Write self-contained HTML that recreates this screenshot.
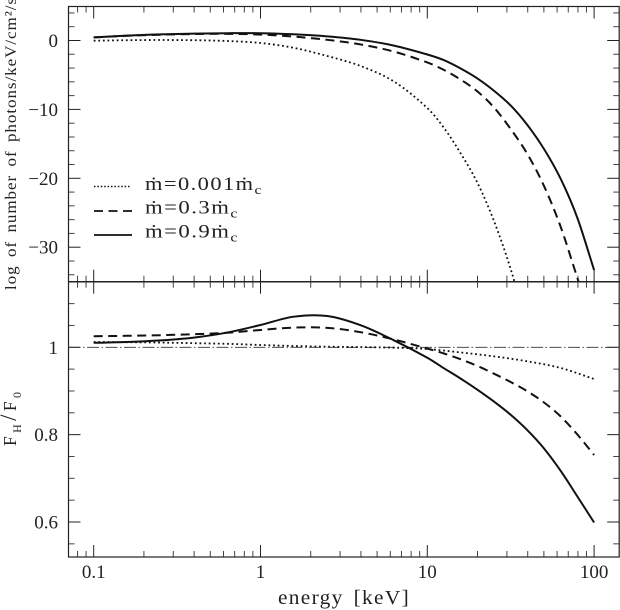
<!DOCTYPE html>
<html lang="en">
<head>
<meta charset="utf-8">
<title>Photon spectra and flux ratio versus energy</title>
<style>
html,body{margin:0;padding:0;background:#fff;}
svg{display:block;font-family:"Liberation Serif",serif;fill:#222;}
</style>
</head>
<body>
<svg id="chart" xmlns="http://www.w3.org/2000/svg" width="620" height="610" viewBox="0 0 620 610">
  <defs>
    <clipPath id="top-clip"><rect x="68" y="6" width="552" height="275.5"/></clipPath>
    <clipPath id="bottom-clip"><rect x="68" y="281.5" width="552" height="275.5"/></clipPath>
  </defs>
  <rect width="620" height="610" fill="#fff"/>
  <g id="ticks"></g>
  <g id="tick-labels" font-size="19"></g>
  <line id="unity-line" stroke="#333" stroke-width="0.9" stroke-dasharray="12 2.5 1.5 2.5"/>
  <g id="top-series" clip-path="url(#top-clip)"></g>
  <g id="bottom-series" clip-path="url(#bottom-clip)"></g>
  <g fill="none" stroke="#222">
    <rect x="68.5" y="6.5" width="550.7" height="550.5" stroke-width="1.2"/>
    <line x1="68" y1="281.7" x2="620" y2="281.7" stroke-width="1.5"/>
  </g>
  <text transform="translate(16,290) rotate(-90)" font-size="16" letter-spacing="0.9" word-spacing="3" textLength="293" lengthAdjust="spacingAndGlyphs">log of number of photons/keV/cm²/s</text>
  <text transform="translate(16,446) rotate(-90)" font-size="17.5" textLength="54" lengthAdjust="spacing">F<tspan font-size="12" dy="5">H</tspan><tspan dy="-5" font-size="23">/</tspan>F<tspan font-size="12" dy="5">0</tspan></text>
  <text x="278" y="604" font-size="19.5" letter-spacing="1.2" word-spacing="3" textLength="132" lengthAdjust="spacingAndGlyphs">energy [keV]</text>
  <g>
    <g>
      <line x1="94" y1="186.5" x2="131" y2="186.5" stroke="#111" stroke-width="1.5" stroke-dasharray="1.5 1.9"/>
      <text x="145" y="190" font-size="18.5" letter-spacing="1.2" textLength="118" lengthAdjust="spacingAndGlyphs">ṁ=0.001ṁ<tspan font-size="13" dy="4">c</tspan></text>
    </g>
    <g>
      <line x1="94" y1="211" x2="132" y2="211" stroke="#111" stroke-width="1.8" stroke-dasharray="9 5.5"/>
      <text x="145" y="213.5" font-size="18.5" letter-spacing="1.2" textLength="94" lengthAdjust="spacingAndGlyphs">ṁ=0.3ṁ<tspan font-size="13" dy="4">c</tspan></text>
    </g>
    <g>
      <line x1="94" y1="235" x2="132" y2="235" stroke="#111" stroke-width="1.8"/>
      <text x="145" y="237.5" font-size="18.5" letter-spacing="1.2" textLength="94" lengthAdjust="spacingAndGlyphs">ṁ=0.9ṁ<tspan font-size="13" dy="4">c</tspan></text>
    </g>
  </g>
</svg>
<script>
var xMajorTicks = [0.1, 1, 10, 100];
var xTickLabels = ["0.1", "1", "10", "100"];
var xMinorTicks = [0.08, 0.09, 0.2, 0.3, 0.4, 0.5, 0.6, 0.7, 0.8, 0.9, 2, 3, 4, 5, 6, 7, 8, 9, 20, 30, 40, 50, 60, 70, 80, 90];
var topMajorTicks = [0, -10, -20, -30];
var topTickLabels = ["0", "−10", "−20", "−30"];
var topMinorTicks = [4, 2, -2, -4, -6, -8, -12, -14, -16, -18, -22, -24, -26, -28, -32, -34];
var bottomMajorTicks = [1, 0.8, 0.6];
var bottomTickLabels = ["1", "0.8", "0.6"];
var bottomMinorTicks = [1.1, 1.05, 0.95, 0.9, 0.85, 0.75, 0.7, 0.65, 0.55];
var unityValue = 1;

var topLowEnergy = [0.1, 0.158, 0.251, 0.398, 0.631, 1, 1.58, 2.51, 3.98, 6.31, 10, 12.6, 15.8, 20, 25.1, 31.6, 39.8];
var topLowValues = [-0.03, 0.04, 0.07, 0.04, -0.07, -0.36, -1.06, -2.25, -3.70, -5.95, -9.80, -12.70, -16.33, -20.68, -26.20, -33.16, -41.73];
var topMidEnergy = [0.1, 0.158, 0.251, 0.398, 0.631, 1, 1.58, 2.51, 3.98, 6.31, 10, 12.6, 15.8, 20, 25.1, 31.6, 39.8, 50.1, 63.1, 79.4, 85];
var topMidValues = [0.45, 0.68, 0.84, 0.94, 0.97, 0.86, 0.57, 0.10, -0.57, -1.61, -3.19, -4.28, -5.66, -7.40, -9.72, -12.84, -16.47, -21.12, -27.07, -34.47, -36.65];
var topHighEnergy = [0.1, 0.158, 0.251, 0.398, 0.631, 1, 1.58, 2.51, 3.98, 6.31, 10, 12.6, 15.8, 20, 25.1, 31.6, 39.8, 50.1, 63.1, 79.4, 100];
var topHighValues = [0.46, 0.71, 0.89, 1.00, 1.06, 1.06, 0.90, 0.60, 0.10, -0.74, -2.03, -2.86, -4.05, -5.52, -7.29, -9.43, -12.26, -15.75, -20.10, -25.76, -33.31];

var ratioLowEnergy = [0.1, 0.158, 0.251, 0.398, 0.631, 1, 1.58, 2.51, 3.98, 6.31, 10, 15.8, 25.1, 39.8, 63.1, 100];
var ratioLowValues = [1.0121, 1.0117, 1.0108, 1.0094, 1.0080, 1.0053, 1.0030, 1.0014, 1.0005, 0.9991, 0.9961, 0.9883, 0.9792, 0.9679, 0.9526, 0.9274];
var ratioMidEnergy = [0.1, 0.158, 0.251, 0.398, 0.631, 1, 1.58, 2.51, 3.98, 6.31, 10, 12.6, 15.8, 20, 25.1, 31.6, 39.8, 50.1, 63.1, 79.4, 100];
var ratioMidValues = [1.0252, 1.0263, 1.0277, 1.0300, 1.0332, 1.0396, 1.0451, 1.0446, 1.0346, 1.0179, 0.9970, 0.9858, 0.9728, 0.9572, 0.9396, 0.9205, 0.8993, 0.8736, 0.8416, 0.8003, 0.7534];
var ratioHighEnergy = [0.1, 0.158, 0.251, 0.398, 0.631, 1, 1.58, 2.51, 3.98, 6.31, 10, 12.6, 15.8, 20, 25.1, 31.6, 39.8, 50.1, 63.1, 79.4, 100];
var ratioHighValues = [1.0103, 1.0121, 1.0158, 1.0222, 1.0337, 1.0511, 1.0701, 1.0717, 1.0506, 1.0160, 0.9760, 0.9519, 0.9286, 0.9027, 0.8757, 0.8455, 0.8102, 0.7683, 0.7168, 0.6584, 0.5989];

var NS = "http://www.w3.org/2000/svg";
var frameLeft = 68.5, frameRight = 619.2, frameTop = 6.5, frameMid = 281.7, frameBottom = 557;

function xScale(e) { return 93.7 + 166.8 * Math.log10(e / 0.1); }
function topY(v) { return 40.5 - 6.89 * v; }
function bottomY(v) { return 347.3 + (1 - v) * 436.75; }

function make(tag) { return document.createElementNS(NS, tag); }

function tickLine(parent, x1, y1, x2, y2, major) {
  var el = make("line");
  el.setAttribute("x1", x1);
  el.setAttribute("y1", y1);
  el.setAttribute("x2", x2);
  el.setAttribute("y2", y2);
  el.setAttribute("stroke", major ? "#222" : "#444");
  el.setAttribute("stroke-width", "1");
  
  
  parent.appendChild(el);
}

function label(parent, x, y, anchor, str, name) {
  var el = make("text");
  el.setAttribute("x", x);
  el.setAttribute("y", y);
  el.setAttribute("text-anchor", anchor);
  el.textContent = str;
  
  
  parent.appendChild(el);
}

function smoothPath(energy, values, yFn) {
  var xs = energy.map(xScale);
  var ys = values.map(yFn);
  var n = xs.length;
  var slopes = xs.map(function (x, i) {
    var a = Math.max(i - 1, 0), b = Math.min(i + 1, n - 1);
    return (ys[b] - ys[a]) / (xs[b] - xs[a]);
  });
  var d = "M" + xs[0].toFixed(2) + " " + ys[0].toFixed(2);
  for (var i = 0; i < n - 1; i++) {
    var h = (xs[i + 1] - xs[i]) / 3;
    d += "C" + (xs[i] + h).toFixed(2) + " " + (ys[i] + h * slopes[i]).toFixed(2) + " " +
         (xs[i + 1] - h).toFixed(2) + " " + (ys[i + 1] - h * slopes[i + 1]).toFixed(2) + " " +
         xs[i + 1].toFixed(2) + " " + ys[i + 1].toFixed(2);
  }
  return d;
}

function drawSeries(parent, energy, values, yFn, dash, width, name) {
  var el = make("path");
  el.setAttribute("d", smoothPath(energy, values, yFn));
  el.setAttribute("fill", "none");
  el.setAttribute("stroke", "#111");
  el.setAttribute("stroke-width", width);
  if (dash) el.setAttribute("stroke-dasharray", dash);
  
  
  parent.appendChild(el);
}

var ticksGroup = document.getElementById("ticks");
var labelsGroup = document.getElementById("tick-labels");

function drawXTicks(list, len, major) {
  list.forEach(function (e) {
    var x = xScale(e);
    tickLine(ticksGroup, x, frameTop, x, frameTop + len, major);
    tickLine(ticksGroup, x, frameMid - len, x, frameMid + len, major);
    tickLine(ticksGroup, x, frameBottom - len, x, frameBottom, major);
  });
}
drawXTicks(xMajorTicks, 12, true);
drawXTicks(xMinorTicks, 6, false);

function drawYTicks(list, yFn, len, major) {
  list.forEach(function (v) {
    var y = yFn(v);
    tickLine(ticksGroup, frameLeft, y, frameLeft + len, y, major);
    tickLine(ticksGroup, frameRight - len, y, frameRight, y, major);
  });
}
drawYTicks(topMajorTicks, topY, 12, true);
drawYTicks(topMinorTicks, topY, 6, false);
drawYTicks(bottomMajorTicks, bottomY, 12, true);
drawYTicks(bottomMinorTicks, bottomY, 6, false);

xMajorTicks.forEach(function (e, i) {
  label(labelsGroup, xScale(e), 578, "middle", xTickLabels[i], "x-tick-label");
});
topMajorTicks.forEach(function (v, i) {
  label(labelsGroup, 58, topY(v) + 6.5, "end", topTickLabels[i], "top-y-tick-label");
});
bottomMajorTicks.forEach(function (v, i) {
  label(labelsGroup, 58, bottomY(v) + 6.5, "end", bottomTickLabels[i], "bottom-y-tick-label");
});

var unity = document.getElementById("unity-line");
unity.setAttribute("x1", frameLeft);
unity.setAttribute("x2", frameRight);
unity.setAttribute("y1", bottomY(unityValue));
unity.setAttribute("y2", bottomY(unityValue));

var topGroup = document.getElementById("top-series");
var bottomGroup = document.getElementById("bottom-series");
drawSeries(topGroup, topLowEnergy, topLowValues, topY, "1.8 2.8", 1.8, "spectrum-low-rate");
drawSeries(topGroup, topMidEnergy, topMidValues, topY, "9 5.5", 2, "spectrum-mid-rate");
drawSeries(topGroup, topHighEnergy, topHighValues, topY, null, 2, "spectrum-high-rate");
drawSeries(bottomGroup, ratioLowEnergy, ratioLowValues, bottomY, "1.8 2.8", 1.8, "ratio-low-rate");
drawSeries(bottomGroup, ratioMidEnergy, ratioMidValues, bottomY, "9 5.5", 2, "ratio-mid-rate");
drawSeries(bottomGroup, ratioHighEnergy, ratioHighValues, bottomY, null, 2, "ratio-high-rate");
</script>
</body>
</html>
